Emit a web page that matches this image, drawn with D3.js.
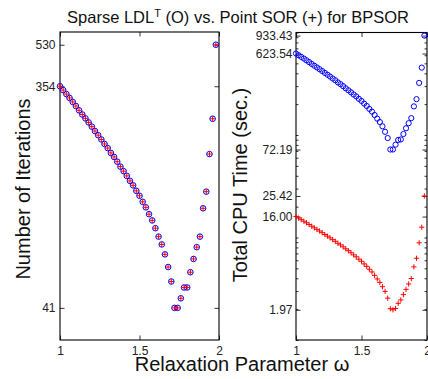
<!DOCTYPE html>
<html>
<head>
<meta charset="utf-8">
<script src="https://cdn.jsdelivr.net/npm/d3@7"></script>
<style>
  body { margin: 0; background: #fff; }
  text { font-family: "Liberation Sans", Arial, sans-serif; }
</style>
</head>
<body>
<svg id="chart" width="428" height="379"></svg>
<script>
// relaxation parameter values (step 0.02)
const omega = [1.00, 1.02, 1.04, 1.06, 1.08, 1.10, 1.12, 1.14, 1.16, 1.18,
  1.20, 1.22, 1.24, 1.26, 1.28, 1.30, 1.32, 1.34, 1.36, 1.38,
  1.40, 1.42, 1.44, 1.46, 1.48, 1.50, 1.52, 1.54, 1.56, 1.58,
  1.60, 1.62, 1.64, 1.66, 1.68, 1.70, 1.72, 1.74, 1.76, 1.78,
  1.80, 1.82, 1.84, 1.86, 1.88, 1.90, 1.92, 1.94, 1.96, 1.98]

// number of iterations (same for both methods)
const iterations = [354, 341, 328, 316, 304, 292, 280, 269, 259, 249,
  239, 229, 220, 211, 202, 194, 185, 178, 170, 162,
  155, 148, 141, 135, 128, 122, 115, 109, 102, 96,
  89, 82, 76, 69, 61, 53, 41, 41, 45, 50,
  50, 58, 66, 74, 82, 108, 127, 183, 258, 530]

// total CPU time, sparse LDL^T
const timeLDL = [623.54, 600.64, 577.74, 556.60, 535.47, 514.33, 493.19, 473.82, 456.20, 438.59,
  420.97, 403.36, 387.51, 371.66, 355.80, 341.71, 325.86, 313.53, 299.44, 285.35,
  273.02, 260.69, 248.36, 237.79, 225.46, 214.89, 202.56, 192.00, 179.66, 169.09,
  156.76, 144.43, 133.87, 121.54, 107.45, 93.35, 72.19, 72.19, 80.5, 89.5,
  90.5, 102.2, 116.3, 130.3, 146.0, 190.2, 223.7, 322.3, 454.4, 933.43]

// total CPU time, point SOR
const timeSOR = [16.00, 15.46, 14.92, 14.42, 13.91, 13.40, 12.89, 12.42, 12.00, 11.57,
  11.14, 10.70, 10.31, 9.92, 9.53, 9.18, 8.78, 8.47, 8.11, 7.75,
  7.44, 7.10, 6.77, 6.48, 6.14, 5.86, 5.52, 5.23, 4.90, 4.61,
  4.27, 3.94, 3.65, 3.31, 2.98, 2.56, 2.02, 1.97, 2.03, 2.28,
  2.46, 2.77, 3.12, 3.52, 3.98, 5.17, 6.27, 8.88, 12.6, 25.42]

const xTicks = [1, 1.5, 2]
const xTickLabels = ['1', '1.5', '2']
const iterTicks = [41, 354, 530]
const iterTickLabels = ['41', '354', '530']
const timeTicks = [1.97, 16.00, 25.42, 72.19, 623.54, 933.43]
const timeTickLabels = ['1.97', '16.00', '25.42', '72.19', '623.54', '933.43']

const svg = d3.select('#chart')

// panel geometry
const left = { x0: 60, x1: 219, y0: 32, y1: 340 }
const right = { x0: 296, x1: 427, y0: 32.5, y1: 340 }

function crossPath(s) {
  return `M${-s},0H${s}M0,${-s}V${s}`
}

function drawPanel(p, yDomain, yTicks, yLabels, minor) {
  const x = d3.scaleLinear().domain([1, 2]).range([p.x0, p.x1])
  const y = d3.scaleLog().domain(yDomain).range([p.y1, p.y0])
  const g = svg.append('g')

  if (minor) {
    const minorTicks = y.ticks().filter(d => d >= yDomain[0] && d <= yDomain[1])
    g.append('g').attr('transform', `translate(${p.x0},0)`)
      .call(d3.axisLeft(y).tickValues(minorTicks).tickFormat('').tickSizeInner(-2.5).tickSizeOuter(0))
    g.append('g').attr('transform', `translate(${p.x1},0)`)
      .call(d3.axisRight(y).tickValues(minorTicks).tickFormat('').tickSizeInner(-2.5).tickSizeOuter(0))
  }

  g.append('g').attr('transform', `translate(${p.x0},0)`)
    .call(d3.axisLeft(y).tickValues(yTicks).tickFormat((d, i) => yLabels[i])
      .tickSizeInner(-4.5).tickSizeOuter(0).tickPadding(minor ? 3.5 : 4.5))
  g.append('g').attr('transform', `translate(${p.x1},0)`)
    .call(d3.axisRight(y).tickValues(yTicks).tickFormat('').tickSizeInner(-4.5).tickSizeOuter(0))
  g.append('g').attr('transform', `translate(0,${p.y1})`)
    .call(d3.axisBottom(x).tickValues(xTicks).tickFormat((d, i) => xTickLabels[i])
      .tickSizeInner(-4.5).tickSizeOuter(0).tickPadding(6.5))
  g.append('g').attr('transform', `translate(0,${p.y0})`)
    .call(d3.axisTop(x).tickValues(xTicks).tickFormat('').tickSizeInner(-4.5).tickSizeOuter(0))

  g.selectAll('.domain').remove()
  g.selectAll('.tick line').attr('stroke', '#000').attr('stroke-width', 0.8)
  g.selectAll('.tick text').attr('font-size', 12).attr('fill', '#222')
    .style('font-family', '"Liberation Sans", Arial, sans-serif')

  g.append('rect')
    .attr('x', p.x0).attr('y', p.y0)
    .attr('width', p.x1 - p.x0).attr('height', p.y1 - p.y0)
    .attr('fill', 'none').attr('stroke', '#000').attr('stroke-width', 1.1)

  return { x, y, g }
}

// left panel: iterations
const L = drawPanel(left, [30, 600], iterTicks, iterTickLabels, false)
L.g.append('g').selectAll('circle')
  .data(omega)
  .join('circle')
    .attr('cx', d => L.x(d))
    .attr('cy', (d, i) => L.y(iterations[i]))
    .attr('r', 2.8)
    .attr('fill', 'none')
    .attr('stroke', '#0000ff')
    .attr('stroke-width', 1)
L.g.append('g').selectAll('path')
  .data(omega)
  .join('path')
    .attr('d', crossPath(2.6))
    .attr('transform', (d, i) => `translate(${L.x(d)},${L.y(iterations[i])})`)
    .attr('stroke', '#ff0000')
    .attr('stroke-width', 1)

// right panel: CPU time
const R = drawPanel(right, [1, 1000], timeTicks, timeTickLabels, true)
R.g.append('g').selectAll('circle')
  .data(omega)
  .join('circle')
    .attr('cx', d => R.x(d))
    .attr('cy', (d, i) => R.y(timeLDL[i]))
    .attr('r', 2.6)
    .attr('fill', 'none')
    .attr('stroke', '#0000ff')
    .attr('stroke-width', 1)
R.g.append('g').selectAll('path')
  .data(omega)
  .join('path')
    .attr('d', crossPath(2.6))
    .attr('transform', (d, i) => `translate(${R.x(d)},${R.y(timeSOR[i])})`)
    .attr('stroke', '#ff0000')
    .attr('stroke-width', 1)

// title
const title = svg.append('text')
  .attr('x', 238).attr('y', 23)
  .attr('text-anchor', 'middle')
  .attr('font-size', 16.5)
  .attr('fill', '#111')
title.append('tspan').text('Sparse LDL')
title.append('tspan').text('T').attr('font-size', 11).attr('dy', -6)
title.append('tspan').text(' (O) vs. Point SOR (+) for BPSOR').attr('dy', 6)

// axis labels
svg.append('text')
  .attr('transform', 'translate(30,189) rotate(-90)')
  .attr('text-anchor', 'middle')
  .attr('font-size', 20)
  .attr('fill', '#111')
  .text('Number of Iterations')

svg.append('text')
  .attr('transform', 'translate(247,185) rotate(-90)')
  .attr('text-anchor', 'middle')
  .attr('font-size', 20)
  .attr('fill', '#111')
  .text('Total CPU Time (sec.)')

svg.append('text')
  .attr('x', 242).attr('y', 371)
  .attr('text-anchor', 'middle')
  .attr('font-size', 20)
  .attr('fill', '#111')
  .text('Relaxation Parameter ω')
</script>
</body>
</html>
